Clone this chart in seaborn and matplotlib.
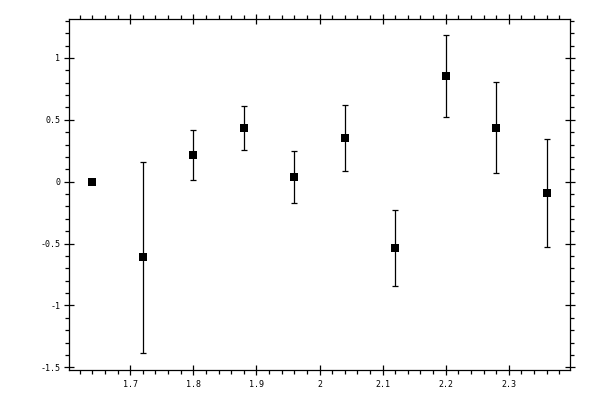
import matplotlib
matplotlib.use("Agg")
import matplotlib.pyplot as plt
from matplotlib.ticker import MultipleLocator, FuncFormatter
import seaborn as sns
import pandas as pd

x_vals = [1.64, 1.72, 1.80, 1.88, 1.96, 2.04, 2.12, 2.20, 2.28, 2.36]
y_vals = [0.0, -0.61, 0.218, 0.431, 0.040, 0.356, -0.534, 0.855, 0.437, -0.089]
y_err = [0.0, 0.772, 0.202, 0.177, 0.210, 0.267, 0.307, 0.334, 0.370, 0.437]

sns.set_style("ticks")
plt.rcParams['font.family'] = ['DejaVu Sans Mono']

df = pd.DataFrame({"x": x_vals, "y": y_vals, "err": y_err})

fig = plt.figure(figsize=(6, 4), dpi=100)
ax = fig.add_axes([69/600, 30/400, (570-69)/600, (370-19)/400])

ax.errorbar(df["x"], df["y"], yerr=df["err"], fmt="none", ecolor="black",
            elinewidth=0.9, capsize=2.4, capthick=0.9, zorder=2)
sns.scatterplot(data=df, x="x", y="y", marker="s", s=34, color="black",
                edgecolor="black", linewidth=0, ax=ax, zorder=3)

ax.set_xlim(1.603, 2.397)
ax.set_ylim(-1.522, 1.315)
ax.set_xlabel("")
ax.set_ylabel("")

ax.xaxis.set_major_locator(MultipleLocator(0.1))
ax.xaxis.set_minor_locator(MultipleLocator(0.02))
ax.yaxis.set_major_locator(MultipleLocator(0.5))
ax.yaxis.set_minor_locator(MultipleLocator(0.1))

def fmt(v, pos):
    s = f"{v:.2f}".rstrip("0").rstrip(".")
    if s == "-0":
        s = "0"
    return s

ax.xaxis.set_major_formatter(FuncFormatter(fmt))
ax.yaxis.set_major_formatter(FuncFormatter(fmt))

for sp in ax.spines.values():
    sp.set_visible(True)
    sp.set_linewidth(0.9)
    sp.set_color("black")

ax.tick_params(which="major", direction="inout", length=6.5, width=0.9,
               top=True, right=True, labelsize=6, colors="black", pad=3)
ax.tick_params(which="minor", direction="out", length=2.6, width=0.9,
               top=True, right=True, colors="black")
ax.tick_params(axis="x", which="major", pad=4)

fig.savefig("out.png", dpi=100)
